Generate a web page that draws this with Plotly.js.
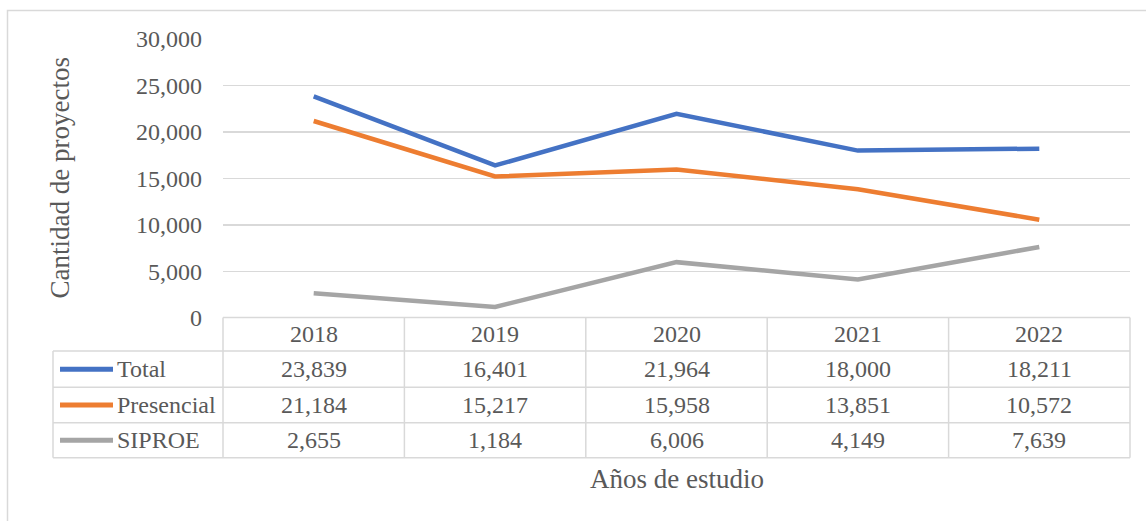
<!DOCTYPE html>
<html><head><meta charset="utf-8">
<script src="https://cdn.plot.ly/plotly-3.0.1.min.js"></script>
<style>body{margin:0;background:#fff}</style>
</head><body>
<div id="chart" style="width:1146px;height:521px"></div>
<script>
const years = ['2018','2019','2020','2021','2022'];
const seriesNames = ['Total','Presencial','SIPROE'];
const total = [23839,16401,21964,18000,18211];
const presencial = [21184,15217,15958,13851,10572];
const siproe = [2655,1184,6006,4149,7639];
const colors = ['#4472C4','#ED7D31','#A5A5A5'];
const yTitle = 'Cantidad de proyectos';
const xTitle = 'Años de estudio';

const allSeries = [total, presencial, siproe];
const FONT = 'Liberation Serif, Times New Roman, serif';
const TXT = '#595959';
const GRID = '#D9D9D9';
const FS = 24;
const FT = 27;

const W = 1146, H = 521;
const L = 223, R = 16, T = 39, B = 203;
const pw = W - L - R, ph = H - T - B;
const px2x = p => (p - L) / pw;
const py2y = p => (H - B - p) / ph;

const traces = allSeries.map((vals, i) => ({
  type: 'scatter', mode: 'lines', x: years, y: vals, name: seriesNames[i],
  line: {color: colors[i], width: 4.5}, hoverinfo: 'x+y+name'
}));

// table geometry (pixels -> paper)
const rowEdges = [317.5, 351, 387.3, 422.7, 457.7].map(py2y);
const labelLeft = px2x(53);
const n = years.length;

const shapes = [];
const lineStyle = {color: GRID, width: 1.5};
shapes.push({type:'line', xref:'paper', yref:'paper', x0:0, x1:1, y0:rowEdges[0], y1:rowEdges[0], line:lineStyle});
for (let r = 1; r < rowEdges.length; r++) {
  shapes.push({type:'line', xref:'paper', yref:'paper', x0:labelLeft, x1:1, y0:rowEdges[r], y1:rowEdges[r], line:lineStyle});
}
for (let k = 0; k <= n; k++) {
  shapes.push({type:'line', xref:'paper', yref:'paper', x0:k/n, x1:k/n, y0:rowEdges[0], y1:rowEdges[4], line:lineStyle});
}
shapes.push({type:'line', xref:'paper', yref:'paper', x0:labelLeft, x1:labelLeft, y0:rowEdges[1], y1:rowEdges[4], line:lineStyle});
shapes.push({type:'rect', xref:'paper', yref:'paper', x0:px2x(7.5), x1:px2x(1160), y0:py2y(540), y1:py2y(10.5), line:{color:GRID, width:1.5}});

const annotations = [];
const mid = (a,b) => (a+b)/2;
const cellFont = {family:FONT,size:FS,color:TXT};
years.forEach((yr, j) => annotations.push({xref:'x', yref:'paper', x:j, y:mid(rowEdges[0],rowEdges[1]), xanchor:'center', yanchor:'middle', text:yr, showarrow:false, font:cellFont}));
allSeries.forEach((vals, i) => {
  const yc = mid(rowEdges[i+1], rowEdges[i+2]);
  vals.forEach((v, j) => annotations.push({xref:'x', yref:'paper', x:j, y:yc, xanchor:'center', yanchor:'middle', text:v.toLocaleString('en-US'), showarrow:false, font:cellFont}));
  shapes.push({type:'line', xref:'paper', yref:'paper', x0:px2x(60), x1:px2x(113), y0:yc, y1:yc, line:{color:colors[i], width:5}});
  annotations.push({xref:'paper', yref:'paper', x:px2x(115), y:yc, xanchor:'left', yanchor:'middle', text:seriesNames[i], showarrow:false, font:cellFont});
});
annotations.push({xref:'paper', yref:'paper', x:px2x(59), y:0.5, xanchor:'center', yanchor:'middle', text:yTitle, textangle:-90, showarrow:false, font:{family:FONT,size:FT,color:TXT}});
annotations.push({xref:'paper', yref:'paper', x:0.5, y:py2y(479), xanchor:'center', yanchor:'middle', text:xTitle, showarrow:false, font:{family:FONT,size:FT,color:TXT}});

const layout = {
  width: W, height: H,
  margin: {l:L, r:R, t:T, b:B, pad:0},
  paper_bgcolor:'#fff', plot_bgcolor:'#fff',
  showlegend:false,
  font:{family:FONT, size:FS, color:TXT},
  xaxis:{type:'category', range:[-0.5, n-0.5], showticklabels:false, showgrid:false, zeroline:false, showline:false, ticks:''},
  yaxis:{range:[0,30000], dtick:5000, tickformat:',d', showgrid:true, gridcolor:GRID, gridwidth:1.5,
         zeroline:false, showline:false, ticks:'', ticklabelstandoff:20,
         tickfont:{family:FONT,size:FS,color:TXT}},
  shapes, annotations
};
Plotly.newPlot('chart', traces, layout, {displayModeBar:false, staticPlot:true});
</script>
</body></html>
